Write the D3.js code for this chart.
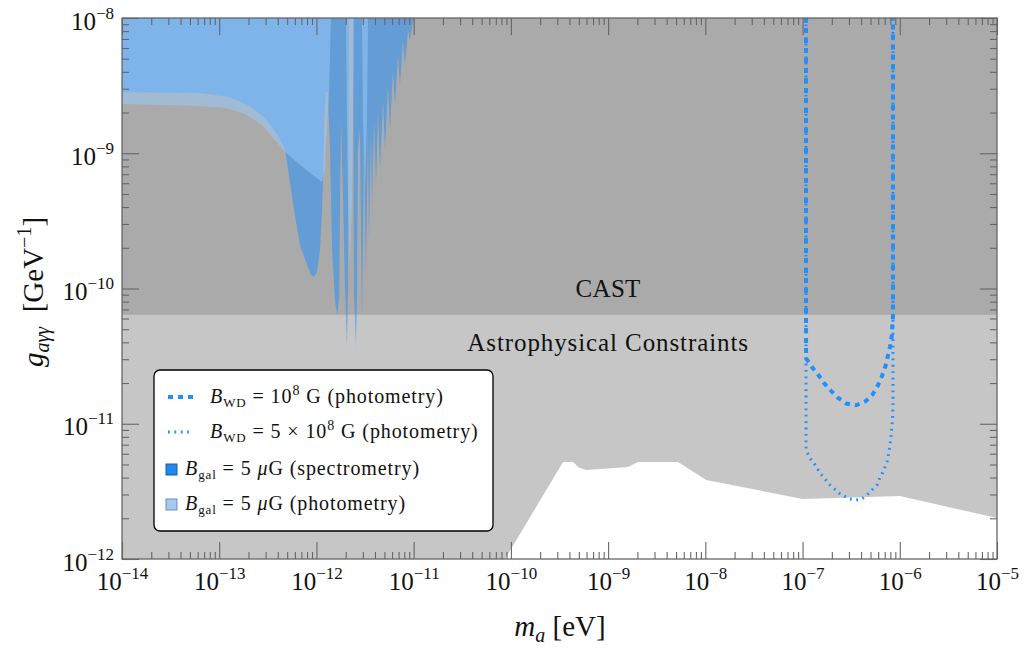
<!DOCTYPE html>
<html><head><meta charset="utf-8">
<script src="https://cdn.jsdelivr.net/npm/d3@7"></script>
<style>
body{margin:0;background:#fff}
svg{display:block}
svg text{font-family:'Liberation Serif','DejaVu Serif',serif;white-space:pre;fill:#111}
</style>
</head><body>
<svg id="chart" width="1025" height="649"></svg>
<script>
// ---------- data ----------
const xDomain = [1e-14, 1e-5];           // m_a [eV]
const yDomain = [1e-12, 1e-8];           // g [GeV^-1]
const xTickExps = [-14, -13, -12, -11, -10, -9, -8, -7, -6, -5];
const yTickExps = [-12, -11, -10, -9, -8];

const castLimit = 6.4e-11;

// Astrophysical constraints: lower boundary
const astroM = [1e-14, 8.7e-11, 3.44e-10, 4.36e-10, 5.0e-10, 5.93e-10, 1.6e-9, 2.03e-9, 5.24e-9, 1.02e-8, 1.0e-7, 1.0e-6, 1e-5];
const astroG = [1e-12, 1e-12, 5.21e-12, 5.21e-12, 4.75e-12, 4.55e-12, 4.79e-12, 5.21e-12, 5.21e-12, 3.84e-12, 2.78e-12, 2.92e-12, 2.01e-12];

// B_gal spectrometry: lower boundary of excluded region
const specM = [1e-14, 6.34e-14, 1.29e-13, 2.07e-13, 2.96e-13, 4.02e-13, 4.75e-13, 5.22e-13, 5.88e-13, 6.78e-13, 7.81e-13, 8.80e-13, 9.44e-13, 1.01e-12, 1.09e-12, 1.14e-12, 1.17e-12, 1.20e-12, 1.25e-12, 1.31e-12, 1.38e-12, 1.45e-12, 1.55e-12, 1.63e-12, 1.71e-12, 1.75e-12, 1.79e-12, 1.88e-12, 1.97e-12, 2.06e-12, 2.11e-12, 2.16e-12, 2.38e-12, 2.43e-12, 2.55e-12, 2.61e-12, 2.67e-12, 2.80e-12, 2.94e-12, 3.01e-12, 3.08e-12, 3.23e-12, 3.31e-12, 3.39e-12, 3.47e-12, 3.56e-12, 3.64e-12, 3.73e-12, 3.91e-12, 4.10e-12, 4.30e-12, 4.51e-12, 4.84e-12, 5.07e-12, 5.44e-12, 5.71e-12, 6.13e-12, 6.43e-12, 6.90e-12, 7.23e-12, 7.76e-12, 8.14e-12, 8.74e-12, 9.16e-12, 9.84e-12, 1.03e-11];
const specG = [2.84e-9, 2.79e-9, 2.60e-9, 2.24e-9, 1.82e-9, 1.36e-9, 1.06e-9, 6.90e-10, 3.80e-10, 2.10e-10, 1.57e-10, 1.26e-10, 1.22e-10, 1.32e-10, 1.93e-10, 3.80e-10, 6.34e-10, 1.76e-9, 2.84e-9, 2.84e-9, 1.06e-9, 1.93e-10, 8.22e-11, 6.37e-11, 8.22e-11, 4.51e-10, 1.82e-9, 4.51e-10, 9.75e-11, 3.69e-11, 9.75e-11, 1e-8, 1e-8, 9.75e-11, 3.69e-11, 8.22e-11, 1.06e-9, 1.49e-9, 6.37e-11, 1.93e-10, 1.49e-9, 1.22e-10, 4.51e-10, 1.49e-9, 2.28e-10, 6.34e-10, 1.49e-9, 4.14e-10, 1.76e-9, 5.82e-10, 2.09e-9, 7.52e-10, 2.48e-9, 1.06e-9, 3.19e-9, 1.49e-9, 4.13e-9, 2.27e-9, 5.32e-9, 3.19e-9, 6.87e-9, 4.49e-9, 8.15e-9, 6.87e-9, 9.34e-9, 1e-8];

// B_gal photometry: lower boundary of excluded region
const photM = [1e-14, 6.34e-14, 1.15e-13, 1.84e-13, 2.75e-13, 3.75e-13, 4.75e-13, 6.78e-13, 8.59e-13, 1.04e-12, 1.14e-12, 1.22e-12, 1.28e-12, 1.35e-12, 1.41e-12, 2.01e-12, 2.06e-12, 2.11e-12, 2.21e-12, 2.32e-12, 2.38e-12, 2.43e-12, 2.94e-12, 3.01e-12, 3.16e-12, 3.31e-12, 3.39e-12];
const photG = [2.31e-9, 2.24e-9, 2.16e-9, 1.95e-9, 1.62e-9, 1.25e-9, 1.02e-9, 8.18e-10, 7.14e-10, 6.45e-10, 6.12e-10, 7.52e-10, 1.49e-9, 2.84e-9, 1e-8, 1e-8, 1.76e-9, 4.51e-10, 1.44e-10, 4.51e-10, 1.76e-9, 1e-8, 1e-8, 1.76e-9, 5.35e-10, 1.76e-9, 1e-8];

// B_WD = 1e8 G (photometry)
const wd1M = [1.086e-7, 1.086e-7, 1.243e-7, 1.432e-7, 1.651e-7, 1.916e-7, 2.30e-7, 2.82e-7, 3.55e-7, 4.47e-7, 5.27e-7, 5.93e-7, 6.56e-7, 7.10e-7, 7.51e-7, 7.94e-7, 8.26e-7, 8.38e-7, 8.51e-7, 8.51e-7, 8.51e-7];
const wd1G = [1e-8, 3.06e-11, 2.64e-11, 2.33e-11, 2.01e-11, 1.78e-11, 1.56e-11, 1.41e-11, 1.37e-11, 1.47e-11, 1.65e-11, 1.91e-11, 2.25e-11, 2.64e-11, 3.13e-11, 3.72e-11, 4.41e-11, 5.22e-11, 6.19e-11, 7.33e-11, 1e-8];

// B_WD = 5e8 G (photometry)
const wd5M = [1.086e-7, 1.086e-7, 1.19e-7, 1.345e-7, 1.514e-7, 1.916e-7, 2.37e-7, 3.00e-7, 3.55e-7, 4.08e-7, 4.59e-7, 5.17e-7, 5.83e-7, 6.24e-7, 6.88e-7, 7.39e-7, 7.74e-7, 8.12e-7, 8.42e-7, 8.51e-7, 8.51e-7];
const wd5G = [1e-8, 6.40e-12, 5.58e-12, 4.96e-12, 4.32e-12, 3.53e-12, 3.08e-12, 2.78e-12, 2.73e-12, 2.78e-12, 2.97e-12, 3.24e-12, 3.53e-12, 3.97e-12, 4.55e-12, 5.21e-12, 6.18e-12, 7.98e-12, 1.07e-11, 1.38e-11, 1e-8];

const regionLabels = [
  {text: "CAST", m: 1e-9, g: 1e-10},
  {text: "Astrophysical Constraints", m: 1e-9, g: 4e-11}
];

// ---------- chart ----------
const FONT = "'Liberation Serif','DejaVu Serif',serif";
const svg = d3.select("#chart");
const L = 122, R = 997, T = 18, B = 559;
const x = d3.scaleLog().domain(xDomain).range([L, R]);
const y = d3.scaleLog().domain(yDomain).range([B, T]);

const colors = {
  astro: "#c6c6c6", cast: "#aaaaaa",
  spec: "#1e90ff", phot: "#99ccff", wd: "#1e90ff", frame: "#666"
};

svg.append("defs").append("clipPath").attr("id", "plotclip")
  .append("rect").attr("x", L).attr("y", T).attr("width", R - L).attr("height", B - T);

const plot = svg.append("g").attr("clip-path", "url(#plotclip)");

function regionPath(ms, gs) {
  const pts = ms.map((m, i) => [x(m), y(gs[i])]);
  pts.push([x(ms[ms.length - 1]), y(yDomain[1])]);
  pts.push([x(ms[0]), y(yDomain[1])]);
  return d3.line()(pts) + "Z";
}

plot.append("path").attr("d", regionPath(astroM, astroG)).attr("fill", colors.astro);
plot.append("path").attr("d", regionPath(xDomain, [castLimit, castLimit])).attr("fill", colors.cast);
plot.append("path").attr("d", regionPath(specM, specG)).attr("fill", colors.spec).attr("fill-opacity", 0.5);
plot.append("path").attr("d", regionPath(photM, photG)).attr("fill", colors.phot).attr("fill-opacity", 0.5);

const line = d3.line().x(d => x(d[0])).y(d => y(d[1]));
plot.append("path").attr("d", line(wd1M.map((m, i) => [m, wd1G[i]])))
  .attr("fill", "none").attr("stroke", colors.wd).attr("stroke-width", 4).attr("stroke-dasharray", "5,5");
plot.append("path").attr("d", line(wd5M.map((m, i) => [m, wd5G[i]])))
  .attr("fill", "none").attr("stroke", colors.wd).attr("stroke-width", 3).attr("stroke-dasharray", "1.8,4.6");

// region labels
regionLabels.forEach(d => {
  svg.append("text").attr("x", x(d.m)).attr("y", y(d.g)).attr("dy", "0.33em")
    .attr("font-family", FONT)
    .attr("text-anchor", "middle").attr("font-size", 25).attr("letter-spacing", d.text.length > 5 ? 0.9 : 0.3)
    .text(d.text);
});

// ---------- axes ----------
const xMaj = xTickExps.map(e => Math.pow(10, e));
const yMaj = yTickExps.map(e => Math.pow(10, e));
function minorTicks(exps) {
  const a = [];
  for (let i = 0; i < exps.length - 1; i++) for (let k = 2; k <= 9; k++) a.push(k * Math.pow(10, exps[i]));
  return a;
}
const xMin = minorTicks(xTickExps), yMin = minorTicks(yTickExps);

function ax(gen, scale, vals, size, tr) {
  const g = svg.append("g").attr("transform", tr)
    .call(gen(scale).tickValues(vals).tickSize(-size).tickSizeOuter(0).tickFormat(""));
  g.select(".domain").remove();
  g.attr("font-family", FONT);
  g.selectAll(".tick line").attr("stroke", colors.frame).attr("stroke-width", 1.1);
  return g;
}
const gxb = ax(d3.axisBottom, x, xMaj, 17, `translate(0,${B})`);
ax(d3.axisBottom, x, xMin, 7, `translate(0,${B})`);
ax(d3.axisTop, x, xMaj, 17, `translate(0,${T})`);
ax(d3.axisTop, x, xMin, 7, `translate(0,${T})`);
const gyl = ax(d3.axisLeft, y, yMaj, 17, `translate(${L},0)`);
ax(d3.axisLeft, y, yMin, 7, `translate(${L},0)`);
ax(d3.axisRight, y, yMaj, 17, `translate(${R},0)`);
ax(d3.axisRight, y, yMin, 7, `translate(${R},0)`);

function powLabel(sel) {
  sel.each(function (d) {
    const t = d3.select(this);
    t.text(null).attr("font-size", 25).attr("fill", "#111").attr("font-family", FONT);
    t.append("tspan").text("10");
    t.append("tspan").attr("dy", -11).attr("font-size", 17).text("\u2212" + Math.abs(Math.round(Math.log10(d))));
  });
}
gxb.selectAll(".tick text").attr("y", 31).attr("dy", 0).attr("text-anchor", "middle").call(powLabel);
gyl.selectAll(".tick text").attr("x", -8).attr("dy", 11).attr("text-anchor", "end").call(powLabel);

// frame
svg.append("rect").attr("x", L).attr("y", T).attr("width", R - L).attr("height", B - T)
  .attr("fill", "none").attr("stroke", colors.frame).attr("stroke-width", 1.3);

// axis titles
const xt = svg.append("text").attr("x", 560).attr("y", 636).attr("text-anchor", "middle").attr("font-size", 29).attr("font-family", FONT);
xt.append("tspan").attr("font-style", "italic").text("m");
xt.append("tspan").attr("font-style", "italic").attr("font-size", 20).attr("dy", 6).text("a");
xt.append("tspan").attr("dy", -6).text(" [eV]");

const yt = svg.append("text").attr("transform", "translate(43,292) rotate(-90)").attr("text-anchor", "middle").attr("font-size", 29).attr("font-family", FONT);
yt.append("tspan").attr("font-style", "italic").text("g");
yt.append("tspan").attr("font-style", "italic").attr("font-size", 20).attr("dy", 6).text("a\u03b3\u03b3");
yt.append("tspan").attr("dy", -6).text("  [GeV");
yt.append("tspan").attr("font-size", 20).attr("dy", -12).text("\u22121");
yt.append("tspan").attr("dy", 12).text("]");

// ---------- legend ----------
const lg = svg.append("g").attr("font-family", FONT);
lg.append("rect").attr("x", 154).attr("y", 370).attr("width", 339).attr("height", 161).attr("rx", 6)
  .attr("fill", "#fff").attr("stroke", "#000").attr("stroke-width", 1.3);

lg.append("line").attr("x1", 168).attr("x2", 193).attr("y1", 397).attr("y2", 397)
  .attr("stroke", colors.wd).attr("stroke-width", 4).attr("stroke-dasharray", "5,5");
lg.append("line").attr("x1", 168).attr("x2", 193).attr("y1", 432).attr("y2", 432)
  .attr("stroke", colors.wd).attr("stroke-width", 3).attr("stroke-dasharray", "1.8,4.6");
lg.append("rect").attr("x", 166).attr("y", 464).attr("width", 11).attr("height", 11)
  .attr("fill", "#1e88f0").attr("stroke", "#1f5c99").attr("stroke-width", 1);
lg.append("rect").attr("x", 166).attr("y", 499).attr("width", 11).attr("height", 11)
  .attr("fill", "#a3cbf2").attr("stroke", "#6f8fb3").attr("stroke-width", 1);

function legendText(xp, yp, parts) {
  const t = lg.append("text").attr("x", xp).attr("y", yp).attr("font-size", 20).attr("letter-spacing", 0.9).attr("font-family", FONT);
  parts.forEach(p => {
    const s = t.append("tspan").text(p.t);
    if (p.i) s.attr("font-style", "italic");
    if (p.dy) s.attr("dy", p.dy);
    if (p.fs) s.attr("font-size", p.fs);
  });
}
legendText(210, 403, [{t: "B", i: 1}, {t: "WD", fs: 13, dy: 4}, {t: " = 10", dy: -4}, {t: "8", fs: 14, dy: -8}, {t: " G (photometry)", dy: 8}]);
legendText(210, 438, [{t: "B", i: 1}, {t: "WD", fs: 13, dy: 4}, {t: " = 5 \u00d7 10", dy: -4}, {t: "8", fs: 14, dy: -8}, {t: " G (photometry)", dy: 8}]);
legendText(185, 475, [{t: "B", i: 1}, {t: "gal", fs: 13, dy: 4}, {t: " = 5 ", dy: -4}, {t: "\u03bc", i: 1}, {t: "G (spectrometry)"}]);
legendText(185, 510, [{t: "B", i: 1}, {t: "gal", fs: 13, dy: 4}, {t: " = 5 ", dy: -4}, {t: "\u03bc", i: 1}, {t: "G (photometry)"}]);
</script>
</body></html>
